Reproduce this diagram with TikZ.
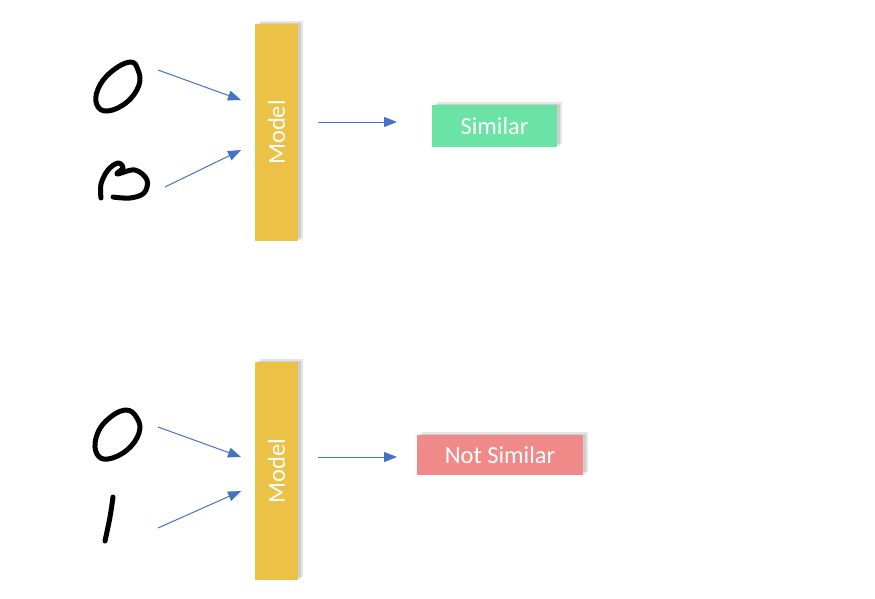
\documentclass[tikz,border=0pt]{standalone}
\usepackage{fontspec}
\setmainfont{Carlito}
\usetikzlibrary{arrows.meta,shadows}
\definecolor{barc}{HTML}{EBC246}
\definecolor{simc}{HTML}{6AE3A5}
\definecolor{notc}{HTML}{F08A89}
\definecolor{arrc}{HTML}{4472C4}
\tikzset{
  softshadow/.style={general shadow={fill=black,opacity=0.10,shadow xshift=2.5pt,shadow yshift=1.5pt},
                     general shadow={fill=black,opacity=0.10,shadow xshift=4.5pt,shadow yshift=3pt}},
  bar/.style={rectangle, fill=barc, minimum width=43pt, minimum height=217pt, inner sep=0pt, softshadow},
  bartext/.style={rotate=90, text=white, font=\fontsize{24.5}{24.5}\selectfont, inner sep=0pt},
  outbox/.style={rectangle, inner sep=0pt, text=white, font=\fontsize{24.5}{24.5}\selectfont, softshadow},
  arr/.style={draw=arrc, line width=1pt, -{Triangle[length=13pt,width=10pt]}},
  digit/.style={draw=black, line width=5pt, line cap=round, line join=round}
}
\begin{document}
\begin{tikzpicture}[x=1pt,y=-1pt]
\useasboundingbox[fill=white] (0,0) rectangle (875,598);

% ---------- top row ----------
\node[bar] (m1) at (276.5,132.5) {};
\node[bartext] (m1t) at (m1.center) {Model};
\node[outbox, fill=simc, minimum width=125pt, minimum height=42pt] (s1) at (494.5,126) {Similar};

\draw[digit] plot[smooth cycle, tension=0.7] coordinates {(130,62) (111,72) (98,89) (97,105) (108,111) (127,102) (139,85) (138,70)};
\draw[digit] plot[smooth, tension=0.6] coordinates {(101,198) (101,184) (108,170) (118,163) (123,168) (117,174) (135,170) (147,180) (144,193) (130,198) (113,197)};

\coordinate (a1s) at (158,70);
\coordinate (a1e) at (241,100);
\coordinate (a2s) at (165,187);
\coordinate (a2e) at (241,150);
\coordinate (o1s) at (318,122);
\coordinate (o1e) at (397,122);
\draw[arr] (a1s) -- (a1e);
\draw[arr] (a2s) -- (a2e);
\draw[arr] (o1s) -- (o1e);

% ---------- bottom row ----------
\node[bar, minimum height=218pt] (m2) at (276.5,471) {};
\node[bartext] (m2t) at (m2.center) {Model};
\node[outbox, fill=notc, minimum width=166pt, minimum height=40pt] (s2) at (500,455) {Not Similar};

\draw[digit] plot[smooth cycle, tension=0.7] coordinates {(125,410) (106,421) (96,438) (97,454) (108,459) (127,450) (139,433) (137,418)};
\draw[digit] plot[smooth, tension=0.6] coordinates {(113,497) (110,517) (105,541)};

\coordinate (b1s) at (158,427);
\coordinate (b1e) at (241,457);
\coordinate (b2s) at (158,528);
\coordinate (b2e) at (241,491);
\coordinate (o2s) at (318,457);
\coordinate (o2e) at (397,457);
\draw[arr] (b1s) -- (b1e);
\draw[arr] (b2s) -- (b2e);
\draw[arr] (o2s) -- (o2e);
\end{tikzpicture}
\end{document}
